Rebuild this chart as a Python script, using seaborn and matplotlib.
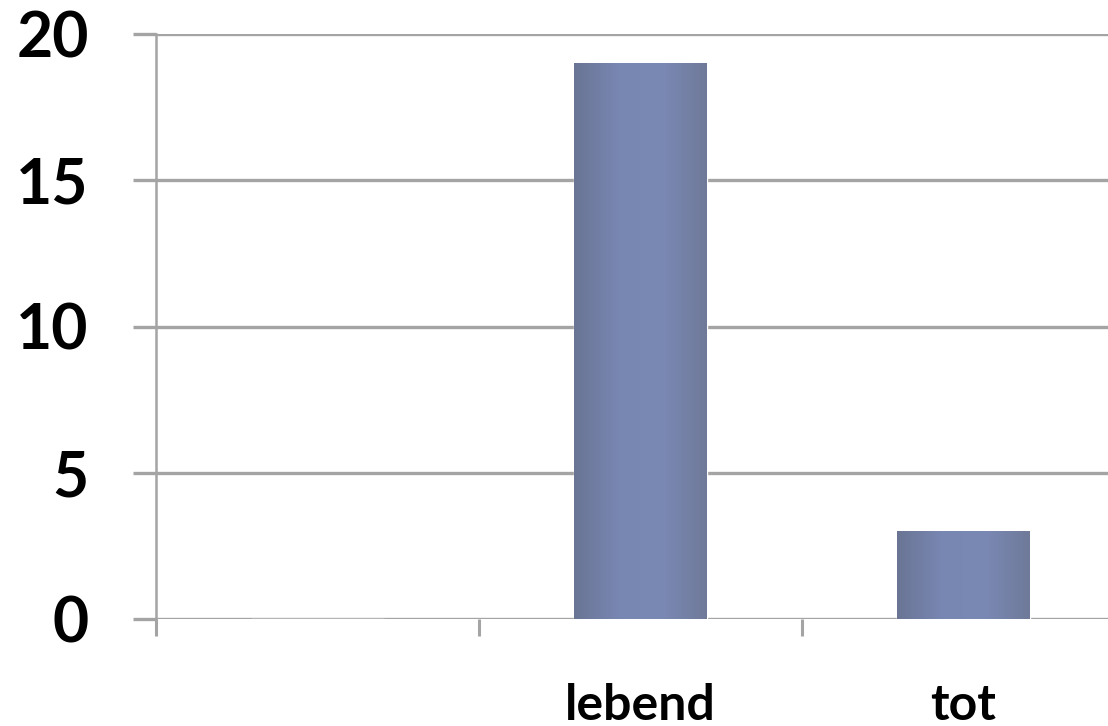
import numpy as np
import matplotlib
matplotlib.use("Agg")
import matplotlib.pyplot as plt
import matplotlib.colors as mcolors
from matplotlib.ticker import FixedLocator
import seaborn as sns

# Data
categories = ["", "lebend", "tot"]
counts = [0, 19, 3]
y_ticks = [0, 5, 10, 15, 20]

sns.set_theme(style="white")
plt.rcParams["font.family"] = ["Lato", "DejaVu Sans"]

grid_color = "#a4a4a4"
fig = plt.figure(figsize=(11.08, 7.26), dpi=100)
ax = fig.add_axes([156 / 1108, 107 / 726, 969 / 1108, 585 / 726])

sns.barplot(x=categories, y=counts, order=categories, color="#7583aa",
            width=0.41, saturation=1, ax=ax, zorder=3)

# Horizontal shading across each bar
shade = mcolors.LinearSegmentedColormap.from_list(
    "bar_shade", ["#6a7594", "#7886b2", "#7a88b4", "#6f7a99"])
gradient = np.linspace(0, 1, 256).reshape(1, -1)
for patch in ax.patches:
    h = patch.get_height()
    if h <= 0:
        continue
    x0, y0 = patch.get_x(), patch.get_y()
    w = patch.get_width()
    im = ax.imshow(gradient, cmap=shade, aspect="auto", interpolation="bicubic",
                   extent=[x0, x0 + w, y0, y0 + h], zorder=4)
    im.set_clip_path(patch)

ax.set_xlim(-0.5, len(categories) - 0.5)
ax.set_ylim(0, 20)
ax.set_yticks(y_ticks)
ax.set_yticklabels([str(t) for t in y_ticks])

# Category boundaries carry the tick marks; labels sit at the centers
ax.xaxis.set_minor_locator(FixedLocator(np.arange(-0.5, len(categories), 1.0)))
ax.tick_params(axis="x", which="major", length=0, pad=46, labelsize=36,
               labelcolor="black")
ax.tick_params(axis="x", which="minor", length=12.5, width=2.2, color=grid_color,
               direction="out", bottom=True)
ax.tick_params(axis="y", which="major", length=16.5, width=2.4, color=grid_color,
               direction="out", left=True, pad=32, labelsize=45,
               labelcolor="black")
for lbl in ax.get_xticklabels() + ax.get_yticklabels():
    lbl.set_fontweight("bold")

ax.yaxis.grid(True, color=grid_color, linewidth=2.4, zorder=0)
ax.xaxis.grid(False)
ax.set_axisbelow(True)
for side in ["top", "right", "bottom"]:
    ax.spines[side].set_visible(False)
ax.spines["left"].set_color(grid_color)
ax.spines["left"].set_linewidth(1.8)
ax.set_xlabel("")
ax.set_ylabel("")

fig.savefig("out.png", dpi=100)
